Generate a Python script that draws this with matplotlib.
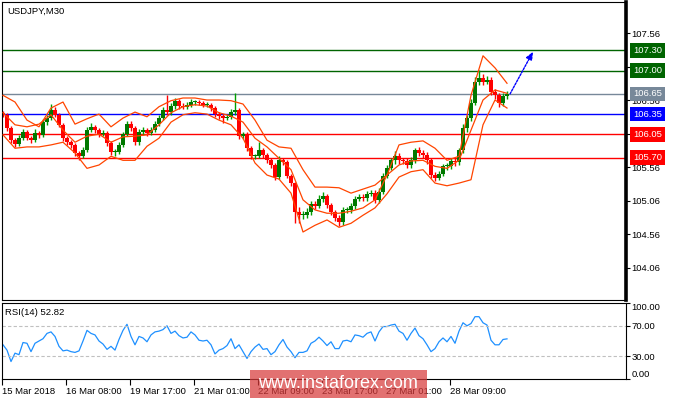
import numpy as np
import matplotlib
matplotlib.use('Agg')
import matplotlib.pyplot as plt
import matplotlib.transforms as mtransforms
from matplotlib.patches import Rectangle

plt.rcParams['font.family'] = ['Liberation Sans', 'DejaVu Sans']
plt.rcParams['font.size'] = 6.5

# USDJPY M30, one candle per 2 hours (4 bars)
first_open = 106.36
closes = [106.34, 106.14, 105.96, 105.90, 105.99, 106.08, 105.99, 105.96, 106.07, 106.04,
          106.23, 106.29, 106.41, 106.34, 106.19, 105.99, 105.93, 105.89, 105.77, 105.72,
          105.81, 106.11, 106.16, 106.11, 106.05, 106.07, 105.92, 105.78, 105.78, 105.89,
          106.05, 106.20, 106.14, 105.93, 106.08, 106.11, 106.07, 106.11, 106.20, 106.29,
          106.41, 106.38, 106.47, 106.55, 106.47, 106.46, 106.49, 106.53, 106.53, 106.52,
          106.49, 106.49, 106.44, 106.35, 106.32, 106.29, 106.31, 106.38, 106.41, 106.02,
          106.05, 105.84, 105.72, 105.72, 105.81, 105.74, 105.66, 105.59, 105.41, 105.66,
          105.63, 105.43, 105.32, 104.89, 104.84, 104.84, 104.89, 105.01, 104.98, 105.08,
          105.13, 104.99, 104.89, 104.80, 104.74, 104.92, 104.92, 104.98, 105.08, 105.11,
          105.10, 105.16, 105.17, 105.07, 105.19, 105.43, 105.55, 105.66, 105.72, 105.66,
          105.65, 105.59, 105.66, 105.81, 105.77, 105.74, 105.66, 105.44, 105.40, 105.46,
          105.57, 105.57, 105.65, 105.63, 105.81, 106.14, 106.29, 106.52, 106.83, 106.89,
          106.83, 106.86, 106.68, 106.63, 106.52, 106.62, 106.65]
highs = [106.40, 106.37, 106.17, 106.00, 106.04, 106.12, 106.11, 106.03, 106.12, 106.10,
         106.27, 106.33, 106.50, 106.45, 106.37, 106.22, 106.03, 105.97, 105.92, 105.80,
         105.86, 106.16, 106.21, 106.19, 106.14, 106.11, 106.10, 105.95, 105.83, 105.93,
         106.09, 106.25, 106.24, 106.17, 106.12, 106.15, 106.14, 106.15, 106.24, 106.34,
         106.46, 106.63, 106.51, 106.59, 106.58, 106.51, 106.53, 106.57, 106.56, 106.56,
         106.55, 106.53, 106.52, 106.47, 106.38, 106.35, 106.35, 106.42, 106.66, 106.44,
         106.09, 106.08, 105.87, 105.76, 105.93, 105.84, 105.77, 105.69, 105.62, 105.73,
         105.70, 105.66, 105.46, 105.34, 104.97, 104.90, 104.95, 105.06, 105.05, 105.14,
         105.18, 105.16, 105.03, 104.92, 104.84, 104.96, 104.97, 105.02, 105.12, 105.16,
         105.15, 105.20, 105.22, 105.21, 105.24, 105.47, 105.59, 105.70, 105.80, 105.77,
         105.70, 105.69, 105.71, 105.85, 105.86, 105.81, 105.78, 105.70, 105.48, 105.50,
         105.61, 105.62, 105.69, 105.69, 105.85, 106.20, 106.34, 106.58, 106.90, 107.01,
         106.95, 106.92, 106.90, 106.72, 106.67, 106.67, 106.69]
lows = [106.30, 106.10, 105.92, 105.86, 105.87, 105.96, 105.96, 105.92, 105.93, 106.00,
        106.01, 106.19, 106.26, 106.30, 106.15, 105.95, 105.89, 105.85, 105.73, 105.67,
        105.69, 105.78, 106.08, 106.07, 106.01, 106.02, 105.88, 105.74, 105.73, 105.75,
        105.86, 106.02, 106.10, 105.89, 105.89, 106.04, 106.03, 106.04, 106.08, 106.17,
        106.26, 106.34, 106.34, 106.43, 106.43, 106.42, 106.43, 106.46, 106.49, 106.48,
        106.46, 106.45, 106.40, 106.31, 106.28, 106.22, 106.26, 106.27, 106.34, 105.98,
        105.98, 105.80, 105.68, 105.68, 105.69, 105.70, 105.62, 105.55, 105.37, 105.38,
        105.59, 105.39, 105.27, 104.72, 104.72, 104.78, 104.80, 104.85, 104.94, 104.95,
        105.04, 104.95, 104.85, 104.76, 104.68, 104.70, 104.87, 104.88, 104.94, 105.05,
        105.06, 105.06, 105.12, 105.02, 105.03, 105.15, 105.39, 105.51, 105.61, 105.61,
        105.60, 105.55, 105.55, 105.62, 105.72, 105.69, 105.61, 105.40, 105.35, 105.36,
        105.42, 105.52, 105.53, 105.58, 105.59, 105.77, 106.08, 106.24, 106.48, 106.79,
        106.78, 106.80, 106.63, 106.58, 106.46, 106.47, 106.58]

# Bollinger bands, one point every 3 candles
bb_upper = [106.63, 106.53, 106.26, 106.16, 106.44, 106.53, 106.20, 106.28, 106.35, 106.16,
            106.29, 106.38, 106.31, 106.46, 106.55, 106.59, 106.59, 106.56, 106.56, 106.55,
            106.50, 106.26, 105.96, 105.86, 105.84, 105.52, 105.26, 105.26, 105.25, 105.17,
            105.23, 105.29, 105.44, 105.89, 105.93, 105.95, 105.84, 105.66, 105.72, 106.63,
            107.22, 107.04, 106.81]
bb_middle = [106.37, 106.19, 106.16, 106.20, 106.34, 106.11, 105.93, 106.02, 106.05, 105.93,
             106.01, 106.02, 106.04, 106.19, 106.37, 106.46, 106.49, 106.47, 106.37, 106.32,
             106.23, 105.99, 105.86, 105.69, 105.52, 105.07, 104.92, 104.87, 104.87, 104.90,
             104.95, 105.07, 105.44, 105.59, 105.65, 105.66, 105.57, 105.54, 105.66, 106.11,
             106.56, 106.71, 106.66]
bb_lower = [106.04, 105.84, 105.86, 105.86, 105.89, 105.93, 105.77, 105.54, 105.59, 105.72,
            105.66, 105.66, 105.87, 105.99, 106.23, 106.34, 106.37, 106.35, 106.26, 106.19,
            105.99, 105.62, 105.44, 105.38, 105.17, 104.59, 104.69, 104.77, 104.66, 104.72,
            104.84, 104.95, 105.16, 105.41, 105.49, 105.52, 105.32, 105.28, 105.32, 105.37,
            106.19, 106.56, 106.44]

rsi = [45, 38, 23, 34, 32, 48, 47, 36, 47, 50, 53, 60, 62, 56, 43, 37, 38, 36, 35, 37,
       50, 64, 60, 58, 50, 46, 39, 43, 38, 52, 64, 72, 56, 45, 56, 54, 49, 58, 62, 63,
       65, 70, 60, 63, 57, 54, 55, 62, 58, 51, 50, 51, 45, 33, 38, 40, 44, 53, 40, 45,
       36, 27, 36, 42, 46, 39, 40, 32, 36, 45, 52, 42, 36, 28, 35, 35, 37, 47, 50, 55,
       50, 44, 49, 40, 40, 50, 51, 49, 58, 57, 55, 60, 62, 50, 62, 69, 69, 71, 72, 63,
       60, 51, 60, 67, 57, 53, 45, 36, 40, 49, 54, 49, 56, 47, 63, 74, 70, 73, 82, 82,
       74, 71, 51, 45, 45, 52, 52.82]

levels = [107.30, 107.00, 106.65, 106.35, 106.05, 105.70]
level_colors = ['#006400', '#006400', '#778899', '#0000ff', '#ff0000', '#ff0000']
target = 107.30

price_ticks = [104.06, 104.56, 105.06, 105.56, 106.06, 106.56, 107.06, 107.56]
date_ticks = [0, 64, 128, 192, 256, 320, 384, 448]
date_labels = ['15 Mar 2018', '16 Mar 08:00', '19 Mar 17:00', '21 Mar 01:00',
               '22 Mar 09:00', '23 Mar 17:00', '27 Mar 01:00', '28 Mar 09:00']

o = np.array([first_open] + closes[:-1])
c = np.array(closes)
h = np.array(highs)
l = np.array(lows)
x = np.arange(len(c)) * 4 + 1
xb = np.arange(len(bb_upper)) * 12 + 1

fig = plt.figure(figsize=(6.75, 4), dpi=100)
ax = fig.add_axes([2 / 675, 100 / 400, 624 / 675, 298 / 400])
ax2 = fig.add_axes([2 / 675, 21 / 400, 624 / 675, 76 / 400])

# levels
for lvl, col in zip(levels, level_colors):
    ax.axhline(lvl, color=col, lw=1, zorder=1)

# candles
up = c >= o
cols = np.where(up, '#007800', '#ff0000')
wick = np.where(up, '#00a000', '#ff0000')
ax.vlines(x, l, h, colors=wick, lw=1.0, zorder=2)
ax.bar(x, np.maximum(np.abs(c - o), 0.015), bottom=np.minimum(o, c), width=3.2,
       color=cols, linewidth=0, zorder=2)

# bands
for band in (bb_upper, bb_middle, bb_lower):
    ax.plot(xb, band, color='#ff4500', lw=0.9, zorder=3)

# forecast arrow
ax.annotate('', xy=(x[-1] + 26, target - 0.02), xytext=(x[-1] + 3, c[-1]),
            arrowprops=dict(arrowstyle='-|>,head_length=0.7,head_width=0.3',
                            color='#0000ff', lw=1, linestyle=(0, (1.5, 1)),
                            shrinkA=0, shrinkB=0), zorder=4)

ax.set_xlim(0, 624)
ax.set_ylim(103.575, 108.023)
ax.set_xticks([])
ax.yaxis.tick_right()
ax.set_yticks(price_ticks)
ax.set_yticklabels([f'{v:.2f}' for v in price_ticks])
ax.tick_params(axis='y', length=3, width=0.8, pad=1, labelsize=6.8)
for s in ax.spines.values():
    s.set_linewidth(0.8)
ax.spines['right'].set_linewidth(2.6)
ax.text(0.008, 0.985, 'USDJPY,M30', transform=ax.transAxes, fontsize=6.8,
        ha='left', va='top')

trans = mtransforms.blended_transform_factory(ax.transAxes, ax.transData)
for lvl, col in zip(levels, level_colors):
    ax.text(1.0112, lvl, f'{lvl:.2f}', transform=trans, color='white', fontsize=6.8,
            ha='left', va='center', clip_on=False, zorder=5,
            bbox=dict(boxstyle='square,pad=0.3', fc=col, ec='none'))

# RSI panel
ax2.plot(x, rsi, color='#1e90ff', lw=0.9)
for v in (70, 30):
    ax2.axhline(v, color='#c0c0c0', lw=0.8, ls=(0, (3, 2)))
ax2.set_xlim(0, 624)
ax2.set_ylim(0, 100)
ax2.yaxis.tick_right()
ax2.set_yticks([0, 30, 70, 100])
ax2.set_yticklabels(['0.00', '30.00', '70.00', '100.00'])
ax2.tick_params(axis='y', length=3, width=0.8, pad=1, labelsize=6.8)
yl = ax2.get_yticklabels()
yl[0].set_va('bottom')
yl[3].set_va('top')
ax2.set_xticks(date_ticks)
ax2.set_xticklabels(date_labels, ha='left')
ax2.tick_params(axis='x', length=4, width=0.8, pad=2, labelsize=6.8)
for s in ax2.spines.values():
    s.set_linewidth(0.8)
ax2.text(0.005, 0.93, 'RSI(14) 52.82', transform=ax2.transAxes, fontsize=6.8,
         ha='left', va='top')

# watermark
fig.patches.append(Rectangle((250 / 675, 2 / 400), 177 / 675, 28 / 400,
                             transform=fig.transFigure, fc='#d83a3a', alpha=0.72,
                             ec='none', zorder=5))
fig.text(338 / 675, 16 / 400, 'www.instaforex.com', color='white', fontsize=13,
         ha='center', va='center', zorder=6)

fig.savefig('out.png', dpi=100)
